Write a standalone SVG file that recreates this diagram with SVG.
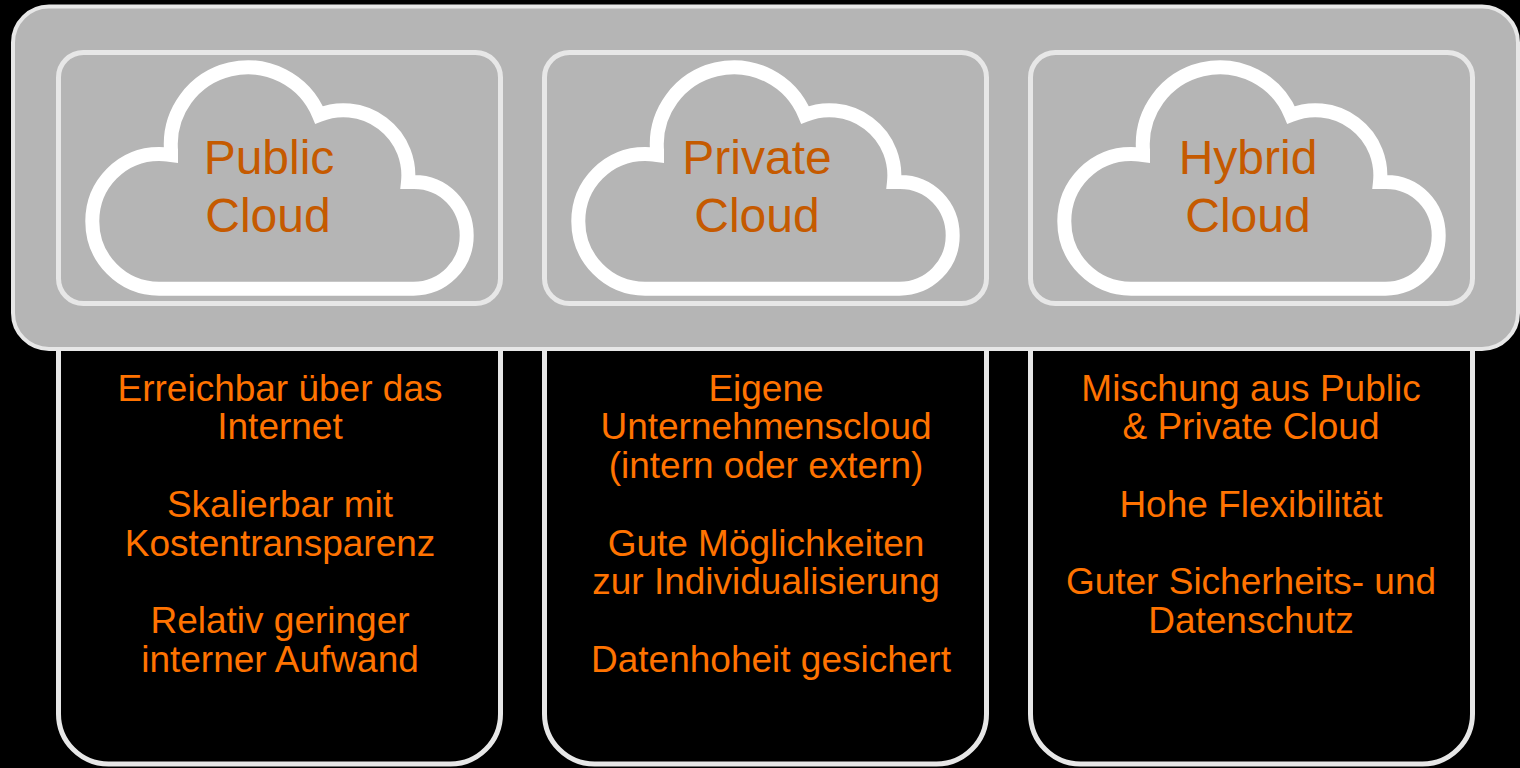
<svg xmlns="http://www.w3.org/2000/svg" width="1520" height="768" viewBox="0 0 1520 768">
<style>
.frame{fill:#b5b5b5;stroke:#e7e7e7;stroke-width:4}
.inner{fill:#b5b5b5;stroke:#e7e7e7;stroke-width:5}
.detail{fill:#000;stroke:#e7e7e7;stroke-width:5}
.cloud{fill:none;stroke:#fff;stroke-width:14;stroke-linejoin:miter;stroke-miterlimit:6}
.title{font-family:"Liberation Sans",Arial,sans-serif;font-size:48px;fill:#c55a00;text-anchor:middle}
.body{font-family:"Liberation Sans",Arial,sans-serif;font-size:37px;fill:#ff7300;text-anchor:middle}
</style>
<defs>
<path id="cloud-shape" class="cloud" d="M159 288.700C122 288.700 92.300 258.500 92.300 221.200C92.300 184 122 154 159 154C163 154 167 154.500 171 155L171 150A77 77 0 0 1 319 115A65 65 0 0 1 408 182H414C444 182 466.700 206 466.700 235.500C466.700 265 443 288.700 413.500 288.700Z"/>
</defs>
<rect width="1520" height="768" fill="#000"/>
<g id="detail-public"><rect class="detail" x="58.500" y="300" width="442" height="464" rx="50"/></g>
<g id="detail-private"><rect class="detail" x="544.500" y="300" width="442" height="464" rx="50"/></g>
<g id="detail-hybrid"><rect class="detail" x="1030.500" y="300" width="442" height="464" rx="50"/></g>
<g id="frame"><rect class="frame" x="13" y="6.500" width="1505" height="342.500" rx="36"/></g>
<g id="connectors"></g>
<g id="public-cloud">
<rect class="inner" x="58.500" y="52.500" width="442" height="251" rx="25"/>
<use href="#cloud-shape"/>
<text class="title" x="269" y="174">Public</text>
<text class="title" x="268" y="232">Cloud</text>
</g>
<g id="private-cloud">
<rect class="inner" x="544.500" y="52.500" width="442" height="251" rx="25"/>
<use href="#cloud-shape" x="486"/>
<text class="title" x="757" y="174">Private</text>
<text class="title" x="757" y="232">Cloud</text>
</g>
<g id="hybrid-cloud">
<rect class="inner" x="1030.500" y="52.500" width="442" height="251" rx="25"/>
<use href="#cloud-shape" x="972"/>
<text class="title" x="1248" y="174">Hybrid</text>
<text class="title" x="1248" y="232">Cloud</text>
</g>
<g id="public-text">
<text class="body" x="280" y="400.700">Erreichbar über das</text>
<text class="body" x="280" y="439">Internet</text>
<text class="body" x="280" y="517">Skalierbar mit</text>
<text class="body" x="280" y="556">Kostentransparenz</text>
<text class="body" x="280" y="633">Relativ geringer</text>
<text class="body" x="280" y="672">interner Aufwand</text>
</g>
<g id="private-text">
<text class="body" x="766" y="400.700">Eigene</text>
<text class="body" x="766" y="439">Unternehmenscloud</text>
<text class="body" x="766" y="478">(intern oder extern)</text>
<text class="body" x="766" y="556">Gute Möglichkeiten</text>
<text class="body" x="766" y="594">zur Individualisierung</text>
<text class="body" x="771" y="672">Datenhoheit gesichert</text>
</g>
<g id="hybrid-text">
<text class="body" x="1251" y="400.700">Mischung aus Public</text>
<text class="body" x="1251" y="439">&amp; Private Cloud</text>
<text class="body" x="1251" y="517">Hohe Flexibilität</text>
<text class="body" x="1251" y="594">Guter Sicherheits- und</text>
<text class="body" x="1251" y="633">Datenschutz</text>
</g>
</svg>
